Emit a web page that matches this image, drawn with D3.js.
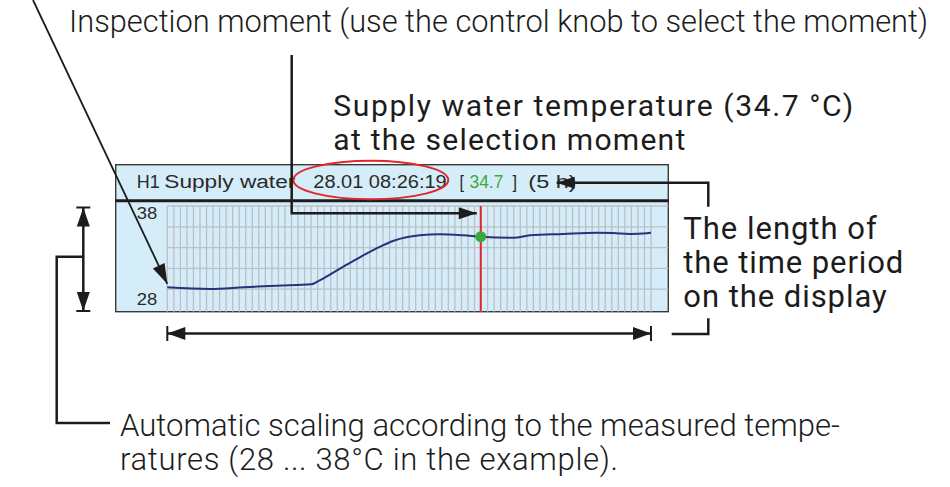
<!DOCTYPE html>
<html lang="en">
<head>
<meta charset="utf-8">
<script src="https://cdn.jsdelivr.net/npm/d3@7"></script>
<style>
  body { margin: 0; background: #fff; }
  svg { display: block; }
</style>
</head>
<body>
<script>
// trend values (hours from the left edge, supply water °C)
var hours = [0, 0.44, 0.79, 1.13, 1.49, 1.58, 1.79, 1.99, 2.20, 2.34, 2.47, 2.61, 2.82, 3.06, 3.24,
             3.58, 3.75, 4.09, 4.44, 4.61, 4.78, 4.96, 5.0];
var temps = [30.18, 30.02, 30.18, 30.34, 30.47, 30.88, 32.01, 33.07, 34.09, 34.66, 34.99, 35.18, 35.28, 35.18, 35.05,
             34.95, 35.18, 35.31, 35.43, 35.40, 35.31, 35.38, 35.43];
var scaleTicks = [28, 38];
var gridTemps = [28, 30, 32, 34, 36, 38];
var periodHours = 5;
var gridCols = 74;
var selHour = 3.24;

var channel = "H1";
var channelName = "Supply water";
var stamp = "28.01 08:26:19";
var reading = "34.7";
var period = "(5 h)";

var w = 950, h = 487;
var panel = { left: 115.7, top: 164.7, right: 668.3, bottom: 311.7, header: 200.7 };
var ink = "#1c1c1c";

var x = d3.scaleLinear().domain([0, periodHours]).range([167.3, 651]);
var y = d3.scaleLinear().domain([28, 38]).range([310, 206]);

var svg = d3.select("body").append("svg")
  .attr("width", w)
  .attr("height", h);

// display panel
svg.append("rect")
  .attr("x", panel.left).attr("y", panel.top)
  .attr("width", panel.right - panel.left).attr("height", panel.bottom - panel.top)
  .attr("fill", "#d5edf9")
  .attr("stroke", "#3a3a3a")
  .attr("stroke-width", 1.4);

var grid = svg.append("g").attr("stroke", "#bcbfc6").attr("stroke-width", 1.3);
grid.selectAll("line.v")
  .data(d3.range(gridCols + 1))
  .enter().append("line")
  .attr("class", "v")
  .attr("x1", i => x(i * periodHours / gridCols))
  .attr("x2", i => x(i * periodHours / gridCols))
  .attr("y1", y(38))
  .attr("y2", panel.bottom);
grid.selectAll("line.h")
  .data(gridTemps.slice(1))
  .enter().append("line")
  .attr("class", "h")
  .attr("x1", x(0))
  .attr("x2", panel.right)
  .attr("y1", d => y(d))
  .attr("y2", d => y(d));

svg.append("line")
  .attr("x1", panel.left).attr("x2", panel.right)
  .attr("y1", panel.header).attr("y2", panel.header)
  .attr("stroke", ink).attr("stroke-width", 3);

// scale labels
svg.selectAll("text.tick")
  .data(scaleTicks)
  .enter().append("text")
  .attr("class", "tick")
  .attr("x", 136.7)
  .attr("y", d => d === 38 ? 219.3 : 305)
  .attr("font-family", "Liberation Sans, Arial, sans-serif")
  .attr("font-size", 16.5)
  .attr("fill", "#2a2a2a")
  .attr("textLength", 20.5)
  .attr("lengthAdjust", "spacingAndGlyphs")
  .text(d => d);

// header line of the display
var headFont = "Liberation Sans, Arial, sans-serif";
var headParts = [
  { t: channel, x: 136.7, len: 23, c: "#2a2a2a" },
  { t: channelName, x: 164.3, len: 131, c: "#2a2a2a" },
  { t: stamp, x: 313.3, len: 133.4, c: "#2a2a2a" },
  { t: "[", x: 459.5, len: 4.5, c: "#2a2a2a" },
  { t: reading, x: 469.5, len: 33.8, c: "#3aaa3c" },
  { t: "]", x: 512.5, len: 4.5, c: "#2a2a2a" },
  { t: period, x: 528.3, len: 48.4, c: "#2a2a2a" }
];
svg.selectAll("text.head")
  .data(headParts)
  .enter().append("text")
  .attr("class", "head")
  .attr("x", d => d.x)
  .attr("y", 188.3)
  .attr("font-family", headFont)
  .attr("font-size", 18)
  .attr("fill", d => d.c)
  .attr("textLength", d => d.len)
  .attr("lengthAdjust", "spacingAndGlyphs")
  .text(d => d.t);

// trend curve
var pts = hours.map((hh, i) => [hh, temps[i]]);
var line = d3.line().x(d => x(d[0])).y(d => y(d[1])).curve(d3.curveMonotoneX);
svg.append("path")
  .datum(pts)
  .attr("d", line)
  .attr("fill", "none")
  .attr("stroke", "#2c2f7c")
  .attr("stroke-width", 2);

// selection cursor
var selTemp = temps[hours.indexOf(selHour)];
svg.append("line")
  .attr("x1", x(selHour)).attr("x2", x(selHour))
  .attr("y1", y(38)).attr("y2", panel.bottom)
  .attr("stroke", "#e82327").attr("stroke-width", 2);
svg.append("circle")
  .attr("cx", x(selHour)).attr("cy", y(selTemp))
  .attr("r", 5.5)
  .attr("fill", "#3aaa3c");

// red ellipse round the timestamp
svg.append("ellipse")
  .attr("cx", 370.8).attr("cy", 180)
  .attr("rx", 77.5).attr("ry", 19.3)
  .attr("fill", "none")
  .attr("stroke", "#e3262b").attr("stroke-width", 2);

// ---- annotation lines and arrows ----
function arrowHead(tip, from, len, half) {
  var dx = tip[0] - from[0], dy = tip[1] - from[1];
  var d = Math.sqrt(dx * dx + dy * dy);
  var ux = dx / d, uy = dy / d;
  var bx = tip[0] - ux * len, by = tip[1] - uy * len;
  svg.append("path")
    .attr("d", "M" + tip[0] + "," + tip[1] +
      "L" + (bx - uy * half) + "," + (by + ux * half) +
      "L" + (bx + uy * half) + "," + (by - ux * half) + "Z")
    .attr("fill", ink);
}
function poly(points, sw) {
  svg.append("path")
    .attr("d", d3.line()(points))
    .attr("fill", "none")
    .attr("stroke", ink)
    .attr("stroke-width", sw || 2.5);
}

// diagonal arrow to the first value
var tip0 = [x(0), y(temps[0]) - 3.5];
var start0 = [33, 0];
poly([start0, tip0], 1.8);
arrowHead(tip0, start0, 20, 6.5);

// inspection moment leader
var selTip = [x(selHour) - 4, 213.3];
poly([[291.7, 55], [291.7, 213.3], selTip], 2.5);
arrowHead(selTip, [291.7, 213.3], 18, 6);

// period leader into the header
var perTip = [556.7, 182.7];
poly([[708.3, 206.7], [708.3, 182.7], perTip], 2.5);
arrowHead(perTip, [708.3, 182.7], 18, 6);
poly([[708.3, 318.3], [708.3, 334], [671.7, 334]], 2.5);

// time span double arrow
var spanY = 333.5;
poly([[x(0), spanY], [x(periodHours), spanY]], 2.5);
arrowHead([x(0), spanY], [x(periodHours), spanY], 18, 6.5);
arrowHead([x(periodHours), spanY], [x(0), spanY], 18, 6.5);
poly([[x(0), spanY - 7.5], [x(0), spanY + 7.5]], 2);
poly([[x(periodHours), spanY - 7.5], [x(periodHours), spanY + 7.5]], 2);

// scale double arrow
var scaleX = 83.3;
poly([[scaleX, y(38) + 1.5], [scaleX, y(28) + 1]], 2.5);
arrowHead([scaleX, y(38) + 1.5], [scaleX, y(28)], 19, 6.5);
arrowHead([scaleX, y(28) + 1], [scaleX, y(38)], 19, 6.5);
poly([[scaleX - 7, y(38) + 1.5], [scaleX + 7, y(38) + 1.5]], 2);
poly([[scaleX - 7, y(28) + 1], [scaleX + 7, y(28) + 1]], 2);
poly([[scaleX, 256.7], [56.7, 256.7], [56.7, 423], [110, 423]], 2.5);

// ---- annotation texts ----
// font size comes from the first line's width (times shrink); every line is then spaced to its width
function block(lines, x0, baselines, widths, weight, shrink) {
  var t = svg.append("g")
    .attr("font-family", "Roboto, 'Liberation Sans', sans-serif")
    .attr("font-weight", weight)
    .attr("fill", ink)
    .selectAll("text")
    .data(lines)
    .enter().append("text")
    .attr("x", x0)
    .attr("y", (d, i) => baselines[i])
    .attr("font-size", 20)
    .text(d => d);
  var size = shrink * 20 * widths[0] / t.nodes()[0].getComputedTextLength();
  t.attr("font-size", size)
    .attr("textLength", (d, i) => widths[i])
    .attr("lengthAdjust", "spacing");
}

block(["Inspection moment (use the control knob to select the moment)"], 69, [32], [859], 300, 1);
block(["Supply water temperature (34.7 °C)", "at the selection moment"], 333.3, [116, 150], [520, 352], 400, 0.9);
block(["The length of", "the time period", "on the display"], 683.3, [239, 273, 307], [193.4, 220, 203.4], 400, 0.94);
block(["Automatic scaling according to the measured tempe-", "ratures (28 ... 38°C in the example)."],
  120, [436, 470], [720, 498], 300, 1);
</script>
</body>
</html>
